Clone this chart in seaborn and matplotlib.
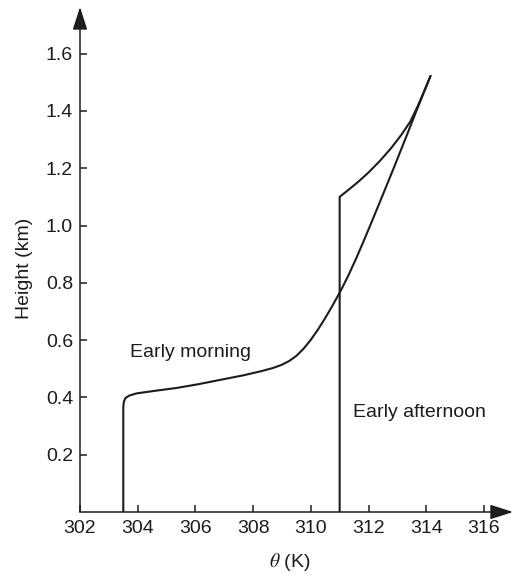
import numpy as np
import pandas as pd
import matplotlib
matplotlib.use("Agg")
import matplotlib.pyplot as plt
import seaborn as sns

# Potential temperature profiles (theta in K, height in km)
morning_theta = [303.5, 303.5, 303.52, 303.58, 303.7, 303.96, 304.6, 305.35, 306.1,
                 306.85, 307.66, 308.3, 308.7, 309.0, 309.25, 309.5, 309.75, 310.0,
                 310.25, 310.5, 310.75, 311.05, 311.3, 311.55, 311.8, 312.1, 312.5,
                 312.9, 313.3, 313.7, 314.15]
morning_height = [0.0, 0.365, 0.385, 0.398, 0.406, 0.414, 0.423, 0.433, 0.446,
                  0.461, 0.477, 0.492, 0.503, 0.514, 0.527, 0.545, 0.570, 0.601,
                  0.637, 0.677, 0.720, 0.775, 0.825, 0.880, 0.938, 1.010, 1.108,
                  1.207, 1.308, 1.410, 1.522]

afternoon_theta = [311.0, 311.0, 311.3, 311.65, 312.0, 312.4, 312.8, 313.15,
                   313.45, 313.7, 313.9, 314.15]
afternoon_height = [0.0, 1.100, 1.124, 1.153, 1.185, 1.226, 1.272, 1.318,
                    1.363, 1.415, 1.462, 1.522]

x_ticks = [302, 304, 306, 308, 310, 312, 314, 316]
y_ticks = [0.2, 0.4, 0.6, 0.8, 1.0, 1.2, 1.4, 1.6]

sns.set_theme(style="white")
plt.rcParams["font.family"] = ["Liberation Sans", "DejaVu Sans"]
plt.rcParams["mathtext.fontset"] = "stix"

INK = "#1c1c1c"
FS = 14

fig = plt.figure(figsize=(5.14, 5.75), dpi=100)
ax = fig.add_axes([80 / 514, 63 / 575, 433 / 514, 505 / 575])

df_m = pd.DataFrame({"theta": morning_theta, "height": morning_height})
df_a = pd.DataFrame({"theta": afternoon_theta, "height": afternoon_height})

sns.lineplot(data=df_m, x="theta", y="height", sort=False, estimator=None,
             color=INK, linewidth=1.5, ax=ax)
sns.lineplot(data=df_a, x="theta", y="height", sort=False, estimator=None,
             color=INK, linewidth=1.5, ax=ax)

ax.set_xlim(302, 302 + 433 / 28.85)
ax.set_ylim(0, 505 / 286.5)

for s in ax.spines.values():
    s.set_visible(False)

# axis lines drawn as arrows
arrow_kw = dict(arrowstyle="-|>,head_length=1.4,head_width=0.45", mutation_scale=10,
                color=INK, lw=1.1, shrinkA=0, shrinkB=0)
ax.annotate("", xy=(0, 1), xytext=(0, 0), xycoords="axes fraction",
            textcoords="axes fraction", arrowprops=arrow_kw, annotation_clip=False)
ax.annotate("", xy=(1, 0), xytext=(0, 0), xycoords="axes fraction",
            textcoords="axes fraction", arrowprops=arrow_kw, annotation_clip=False)

ax.set_xticks(x_ticks)
ax.set_yticks(y_ticks)
ax.set_xticklabels([str(v) for v in x_ticks])
ax.set_yticklabels([f"{v:.1f}" for v in y_ticks])
ax.tick_params(axis="both", direction="in", length=5, width=1.1, color=INK,
               labelsize=FS, labelcolor=INK, bottom=True, left=True)
ax.tick_params(axis="x", pad=6)
ax.tick_params(axis="y", pad=5)

ax.set_xlabel(r"$\theta$ (K)", fontsize=FS, color=INK)
ax.set_ylabel("Height (km)", fontsize=FS, color=INK)
ax.xaxis.set_label_coords(0.484, -0.078)
ax.yaxis.set_label_coords(-0.108, 0.483)

ax.text(303.73, 0.558, "Early morning", fontsize=FS, color=INK, va="center", ha="left")
ax.text(311.45, 0.349, "Early afternoon", fontsize=FS, color=INK, va="center", ha="left")

fig.savefig("out.png", dpi=100)
